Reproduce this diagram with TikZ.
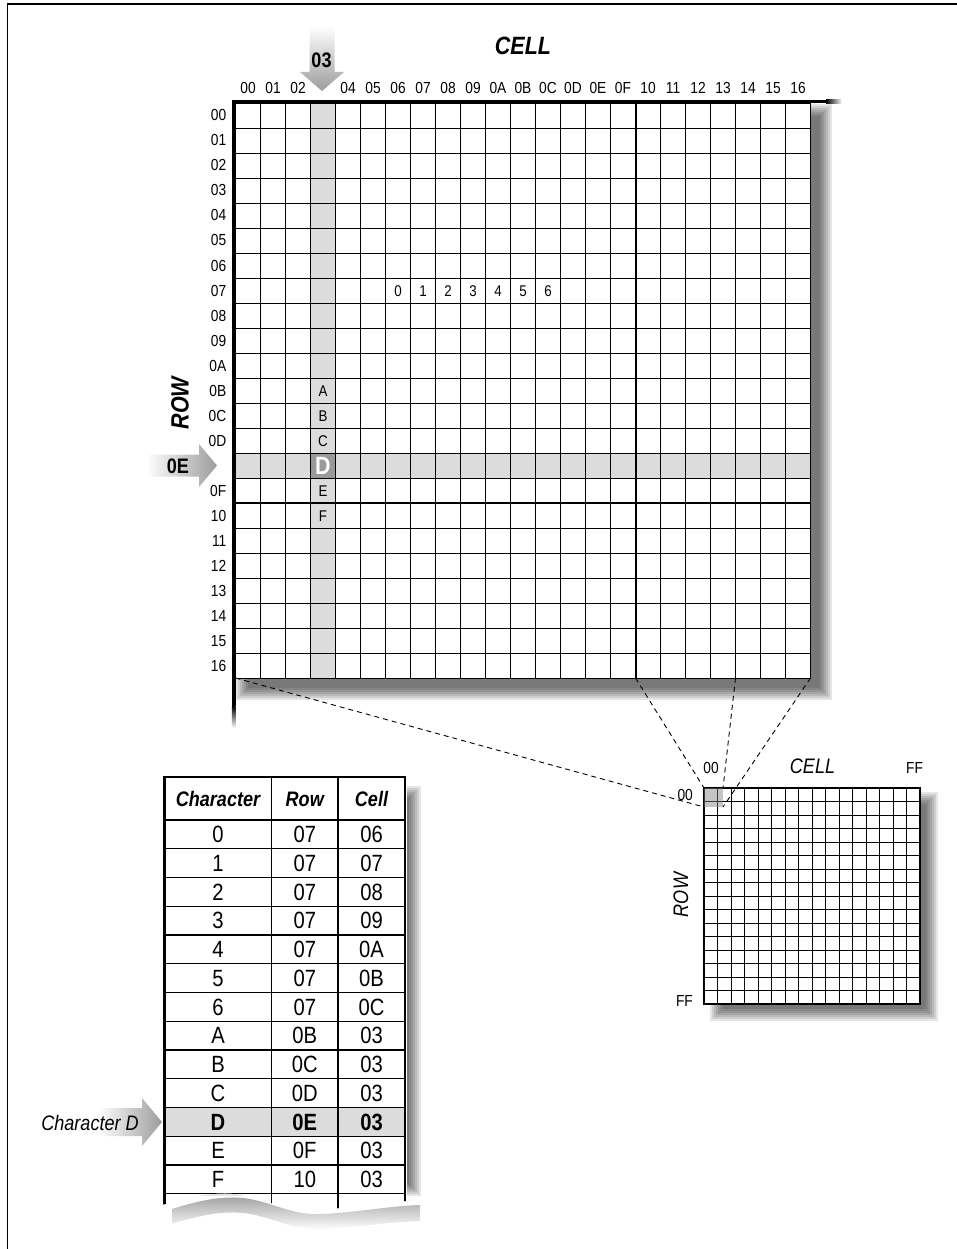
\documentclass[tikz,border=0pt]{standalone}
\usepackage{fontspec}
\setmainfont{Liberation Sans}[FakeStretch=0.86]
\usetikzlibrary{calc}
\definecolor{hiGrey}{HTML}{DCDCDC}
\definecolor{dkGrey}{HTML}{9A9A9A}
\definecolor{arrowGrey}{HTML}{9C9C9C}
\newcommand{\fsz}[1]{\fontsize{#1}{#1}\selectfont}
% soft drop shadow: outer corners (top left, bottom right), built from layers
\newcommand{\dropshade}[2]{%
  \foreach \s in {0,2,...,12}
    \fill[shadowlayer] ($(#1)+(\s,\s)$) rectangle ($(#2)-(\s,\s)$);}
\tikzset{
  % thin rules of the cell grids and heavy rules of the axes
  gridline/.style   = {line width=0.8pt, black},
  heavyline/.style  = {line width=3.6pt, black},
  midline/.style    = {line width=2pt, black},
  frameline/.style  = {line width=1.6pt, black},
  shadowlayer/.style= {black, opacity=0.1},
  zoomline/.style   = {line width=0.9pt, dash pattern=on 5pt off 4pt},
  hexlbl/.style     = {font=\fsz{16}, inner sep=0pt},
  celltxt/.style    = {font=\fsz{15.5}, inner sep=0pt},
  bigtitle/.style   = {font=\fsz{25}\bfseries\itshape, inner sep=0pt},
  smalltitle/.style = {font=\fsz{21}\itshape, inner sep=0pt},
  arrowtxt/.style   = {font=\fsz{21}\bfseries, inner sep=0pt},
  tabhead/.style    = {font=\fsz{21}\bfseries\itshape, inner sep=0pt, anchor=base},
  tabtxt/.style     = {font=\fsz{23.5}, inner sep=0pt, anchor=base},
  tabrule/.style    = {line width=1.1pt, black},
  tabheavy/.style   = {line width=2.4pt, black},
}

\begin{document}
\begin{tikzpicture}[x=1pt,y=-1pt]
  \useasboundingbox (0,0) rectangle (957,1249);
  % page frame, open to the right and bottom
  \draw[frameline] (957,4) -- (7.5,4) -- (7.5,1249);

  % ---------------- big grid: rows and cells 00..16 ----------------
  \coordinate (gridNW) at (235.5,103);
  \coordinate (gridSE) at (810.5,678);
  \dropshade{236,104}{832,700}
  \fill[white] (gridNW) rectangle (gridSE);
  \fill[hiGrey] (310.5,103) rectangle (335.5,678);
  \fill[hiGrey] (235.5,453) rectangle (810.5,478);
  \fill[dkGrey] (310.5,453) rectangle (335.5,478);
  \foreach \i in {0,...,23} {
    \draw[gridline] (235.5+\i*25,103) -- (235.5+\i*25,678);
    \draw[gridline] (235.5,103+\i*25) -- (810.5,103+\i*25);
  }
  \draw[midline] (635.5,103) -- (635.5,678);
  \draw[midline] (235.5,503) -- (810.5,503);
  % axes with fading ends
  \draw[heavyline] (232,101.5) -- (826,101.5);
  \shade[left color=black, right color=white] (826,99.7) rectangle (842,103.3);
  \draw[heavyline] (233.7,99.7) -- (233.7,706);
  \shade[top color=black, bottom color=white] (231.9,706) rectangle (235.5,728);

  \foreach \lab [count=\i from 0] in {00,01,02,03,04,05,06,07,08,09,0A,0B,
      0C,0D,0E,0F,10,11,12,13,14,15,16} {
    \ifnum\i=3 \else \node[hexlbl, anchor=base] (col\lab) at (248+\i*25,93.5) {\lab}; \fi
    \ifnum\i=14 \else \node[hexlbl, anchor=base east] (row\lab) at (226.5,121+\i*25) {\lab}; \fi
  }
  \node[bigtitle] (cellTitle) at (523,46) {CELL};
  \node[bigtitle, rotate=90] (rowTitle) at (180,403) {ROW};

  % characters placed in the grid
  \foreach \d [count=\i from 6] in {0,...,6}
    \node[celltxt, anchor=base] (dig\d) at (248+\i*25,296) {\d};
  \foreach \ch/\r in {A/11,B/12,C/13,E/15,F/16}
    \node[celltxt, anchor=base] (let\ch) at (323,121+\r*25) {\ch};
  \node[font=\fsz{25}\bfseries, text=white, inner sep=0pt] (letD) at (323,466) {D};

  % pointer arrows for cell 03 and row 0E
  \shade[top color=white, bottom color=arrowGrey]
    (309.5,26) -- (309.5,72) -- (300,72) -- (322,91) -- (344,72) -- (334.5,72) -- (334.5,26) -- cycle;
  \node[arrowtxt] (cellPtr) at (321.5,60) {03};
  \shade[left color=white, right color=arrowGrey]
    (146,454.5) -- (199,454.5) -- (199,444) -- (217,465.5) -- (199,487) -- (199,476.5) -- (146,476.5) -- cycle;
  \node[arrowtxt] (rowPtr) at (178,466) {0E};

  % ---------------- small grid: whole 00..FF plane ----------------
  \dropshade{710,792}{938,1021}
  \fill[white] (704,788) rectangle (920,1004);
  \foreach \i in {0,...,16} {
    \draw[gridline] (704+\i*13.5,788) -- (704+\i*13.5,1004);
    \draw[gridline] (704,788+\i*13.5) -- (920,788+\i*13.5);
  }
  \draw[line width=1.2pt] (704,788) rectangle (920,1004);
  \fill[gray, opacity=0.45] (704,788) rectangle (723,807);
  \node[hexlbl] (smColLo) at (711,768) {00};
  \node[smalltitle] (smCell) at (812.5,766) {CELL};
  \node[hexlbl] (smColHi) at (914.5,768) {FF};
  \node[hexlbl, anchor=east] (smRowLo) at (693,795) {00};
  \node[smalltitle, rotate=90] (smRow) at (681,895) {ROW};
  \node[hexlbl, anchor=east] (smRowHi) at (693,1001) {FF};

  % zoom lines from the big grid to its place in the plane
  \coordinate (bigSW) at (235.5,678);
  \coordinate (bigS10) at (635.5,678);
  \coordinate (bigS14) at (735.5,678);
  \coordinate (bigSE) at (810.5,678);
  \coordinate (zoomNW) at (704,788);
  \coordinate (zoomNE) at (723,788);
  \coordinate (zoomSW) at (704,807);
  \coordinate (zoomSE) at (723,807);
  \draw[zoomline] (bigSW) -- (zoomSW);
  \draw[zoomline] (bigS10) -- (zoomNW);
  \draw[zoomline] (bigS14) -- (zoomNE);
  \draw[zoomline] (bigSE) -- (zoomSE);

  % ---------------- lookup table, torn at the bottom ----------------
  \dropshade{172,786}{421,1196}
  \shade[top color=gray!75, bottom color=white]
    (172,1209) .. controls (203,1199) and (228,1195) .. (250,1199)
    .. controls (276,1204) and (293,1215) .. (320,1214)
    .. controls (353,1213) and (388,1206) .. (420,1205) -- (420,1221)
    .. controls (388,1222) and (353,1228) .. (320,1229)
    .. controls (293,1230) and (276,1219) .. (250,1214)
    .. controls (228,1210) and (203,1214) .. (172,1224) -- cycle;
  \begin{scope}
    \clip (162,775) -- (407,775) -- (407,1201)
      .. controls (380,1202) and (345,1209) .. (312,1210)
      .. controls (285,1211) and (268,1200) .. (242,1195)
      .. controls (220,1191) and (195,1195) .. (162,1205) -- cycle;
    \fill[white] (162,775) rectangle (407,1215);
    \fill[hiGrey] (164.5,1107.5) rectangle (405,1136.25);
    \foreach \k in {1,...,13}
      \draw[tabrule] (164.5,820+\k*28.75) -- (405,820+\k*28.75);
    \draw[tabheavy] (164.5,777) -- (405,777);
    \draw[tabheavy] (164.5,820) -- (405,820);
    \foreach \x in {164.5,405}
      \draw[tabheavy] (\x,776) -- (\x,1215);
    \foreach \x in {271.5,338}
      \draw[line width=1.8pt] (\x,777) -- (\x,1215);
  \end{scope}
  \node[tabhead] (hChar) at (218,806) {Character};
  \node[tabhead] (hRow) at (304.75,806) {Row};
  \node[tabhead] (hCell) at (371.5,806) {Cell};
  \foreach \c/\r/\k/\w [count=\i from 0] in {0/07/06/\mdseries, 1/07/07/\mdseries,
      2/07/08/\mdseries, 3/07/09/\mdseries, 4/07/0A/\mdseries, 5/07/0B/\mdseries,
      6/07/0C/\mdseries, A/0B/03/\mdseries, B/0C/03/\mdseries, C/0D/03/\mdseries,
      D/0E/03/\bfseries, E/0F/03/\mdseries, F/10/03/\mdseries} {
    \node[tabtxt] (char\i) at (218,842.7+\i*28.75) {\w\c};
    \node[tabtxt] (row\i) at (304.75,842.7+\i*28.75) {\w\r};
    \node[tabtxt] (cell\i) at (371.5,842.7+\i*28.75) {\w\k};
  }
  % pointer to the looked-up character
  \shade[left color=white, right color=arrowGrey]
    (98,1108) -- (142,1108) -- (142,1098) -- (162,1122) -- (142,1146) -- (142,1136) -- (98,1136) -- cycle;
  \node[font=\fsz{21}\itshape, inner sep=0pt] (charPtr) at (90,1122.5) {Character D};
\end{tikzpicture}
\end{document}
